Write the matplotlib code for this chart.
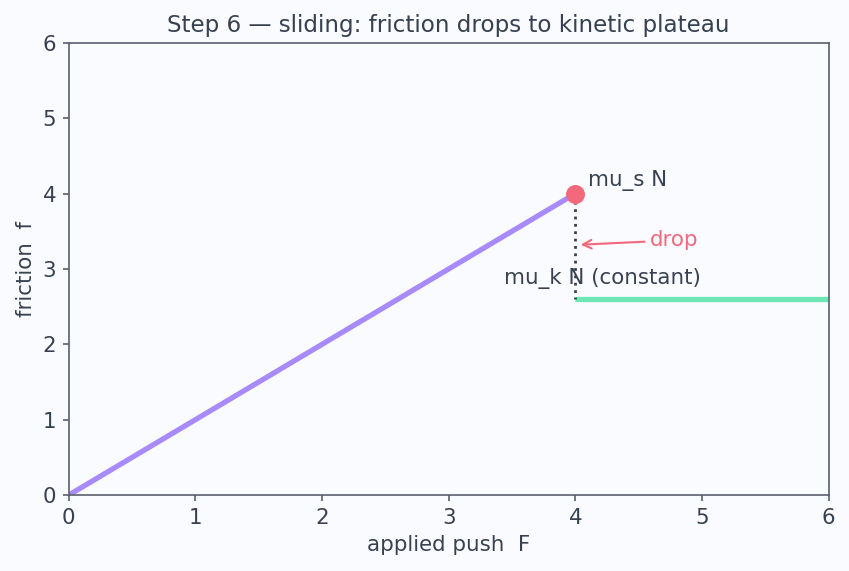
import matplotlib.pyplot as plt

# static region: f = F up to mu_s N
push_static = [0, 4]
friction_static = [0, 4]
# kinetic plateau
push_kinetic = [4, 6]
friction_kinetic = [2.6, 2.6]
peak = (4, 4)

TEXT = "#374151"
BG = "#fafbfe"
SPINE = "#5b5f6e"

plt.rcParams["font.family"] = ["DejaVu Sans"]

fig, ax = plt.subplots(figsize=(8.49, 5.71), dpi=100)
fig.patch.set_facecolor(BG)
ax.set_facecolor(BG)

ax.plot(push_static, friction_static, color="#a78bfa", lw=3.8, solid_capstyle="butt", zorder=2)
ax.plot(push_kinetic, friction_kinetic, color="#6ee7b7", lw=3.8, solid_capstyle="butt", zorder=2)
ax.plot([peak[0], peak[0]], [peak[1], friction_kinetic[0]], color=TEXT, lw=2, ls=":", zorder=3)
ax.scatter([peak[0]], [peak[1]], s=160, color="#f4687c", zorder=4)

ax.text(4.1, 4.18, "mu_s N", color=TEXT, fontsize=15.4, va="center")
ax.text(3.44, 2.87, "mu_k N (constant)", color=TEXT, fontsize=15.4, va="center")
ax.annotate("drop", xy=(4.02, 3.32), xytext=(4.59, 3.38), color="#f4687c", fontsize=15.4,
            va="center", arrowprops=dict(arrowstyle="->", color="#f4687c", lw=1.5))

ax.set_xlim(0, 6)
ax.set_ylim(0, 6)
ax.set_title("Step 6 \u2014 sliding: friction drops to kinetic plateau", color=TEXT,
             fontsize=16.6, pad=7.5)
ax.set_xlabel("applied push  F", color=TEXT, fontsize=15.4, labelpad=5)
ax.set_ylabel("friction  f", color=TEXT, fontsize=15.4, labelpad=5)
ax.tick_params(colors=SPINE, labelcolor=TEXT, labelsize=15.4, length=4.5, width=1.2, pad=4.5)
for sp in ax.spines.values():
    sp.set_color(SPINE)
    sp.set_linewidth(1.2)

fig.subplots_adjust(left=0.081, right=0.976, top=0.925, bottom=0.133)
fig.savefig("out.png", dpi=100, facecolor=BG)
